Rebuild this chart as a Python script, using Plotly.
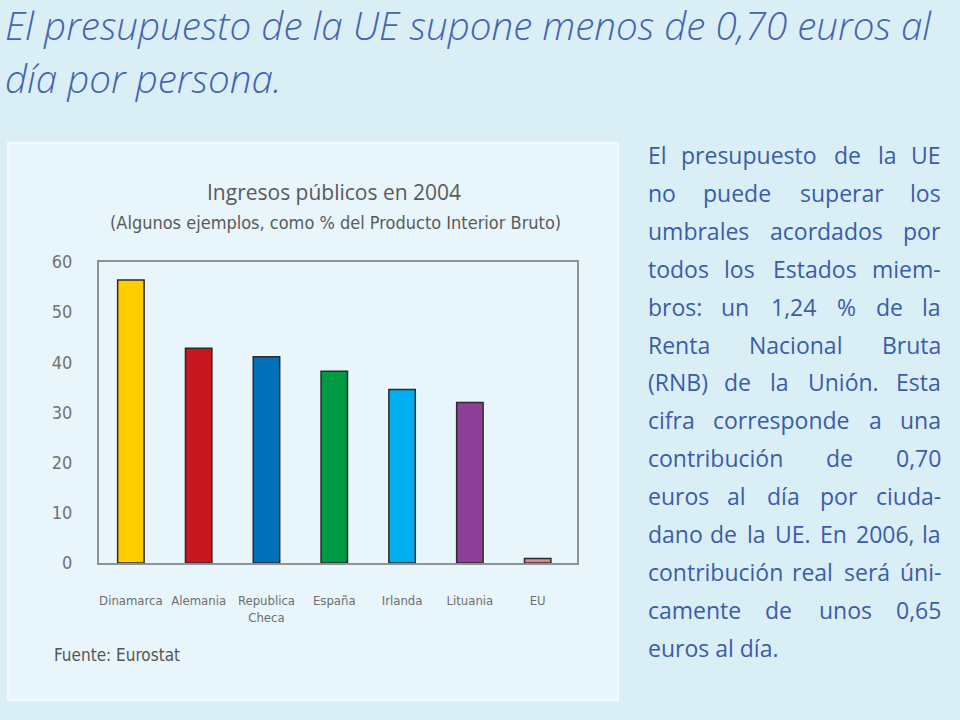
import plotly.graph_objects as go

# ---------------- data ----------------
categories = ["Dinamarca", "Alemania", "Republica<br>Checa", "España", "Irlanda", "Lituania", "EU"]
values = [56.4, 42.8, 41.1, 38.2, 34.6, 32.0, 0.9]
bar_colors = ["#FFCC00", "#C8161E", "#0070BA", "#009A44", "#00AEEF", "#8E3F96", "#D98A86"]
y_ticks = [0, 10, 20, 30, 40, 50, 60]

main_title_lines = ["El presupuesto de la UE supone menos de 0,70 euros al", "día por persona."]
chart_title = "Ingresos públicos en 2004"
chart_subtitle = "(Algunos ejemplos, como % del Producto Interior Bruto)"
source_text = "Fuente: Eurostat"
paragraph_lines = [
    "El presupuesto de la UE",
    "no puede superar los",
    "umbrales acordados por",
    "todos los Estados miem-",
    "bros: un 1,24 % de la",
    "Renta Nacional Bruta",
    "(RNB) de la Unión. Esta",
    "cifra corresponde a una",
    "contribución de 0,70",
    "euros al día por ciuda-",
    "dano de la UE. En 2006, la",
    "contribución real será úni-",
    "camente de unos 0,65",
    "euros al día.",
]

W, H = 960, 720
def fx(x):
    return x / W
def fy(y):
    return 1 - y / H

TEXT_BLUE = "#3A5DA9"
GRAY = "#6E6E6E"
COND = "DejaVu Sans Condensed, Liberation Sans Narrow, Arial Narrow, Open Sans"

fig = go.Figure()
fig.add_trace(go.Bar(
    x=categories, y=values,
    marker=dict(color=bar_colors, line=dict(color="#2A2A2A", width=1.5)),
    width=0.39, showlegend=False, hoverinfo="x+y",
))

axis_line = "#8A9496"
fig.update_layout(
    width=W, height=H,
    autosize=False,
    margin=dict(l=0, r=0, t=0, b=0, pad=0),
    paper_bgcolor="#DAEEF6",
    plot_bgcolor="#EDF7FB",
    xaxis=dict(
        domain=[fx(99), fx(577)], range=[-0.47, 6.58], automargin=False,
        showgrid=False, zeroline=False, showline=True, mirror=True,
        linecolor=axis_line, linewidth=2, ticks="",
        tickfont=dict(family=COND, size=13, color=GRAY),
        ticklabelstandoff=24, fixedrange=True,
    ),
    yaxis=dict(
        domain=[fy(563), fy(262)], range=[0, 60], automargin=False,
        tickvals=y_ticks, ticktext=[str(v) for v in y_ticks],
        showgrid=False, zeroline=False, showline=True, mirror=True,
        linecolor=axis_line, linewidth=2, ticks="",
        tickfont=dict(family=COND, size=18, color="#727272"),
        ticklabelstandoff=21, fixedrange=True,
    ),
)

shapes = [
    dict(type="rect", xref="paper", yref="paper",
         x0=fx(8), x1=fx(618), y0=fy(700), y1=fy(143),
         fillcolor="#E8F5FA", line=dict(color="#F2FAFD", width=2), layer="below"),
]
fig.update_layout(shapes=shapes)

ann = []
# main title
title_font = dict(family="Open Sans", size=38.6, color="#4465AE", style="italic", weight=300)
for i, line in enumerate(main_title_lines):
    ann.append(dict(text=line, xref="paper", yref="paper", x=fx(3), y=fy(25 + i * 53),
                    xanchor="left", yanchor="middle", showarrow=False, font=title_font))

# chart titles
ann.append(dict(text=chart_title, xref="paper", yref="paper", x=fx(334), y=fy(192),
                xanchor="center", yanchor="middle", showarrow=False,
                font=dict(family="Open Sans", size=21, color="#5A5A5A")))
ann.append(dict(text=chart_subtitle, xref="paper", yref="paper", x=fx(335), y=fy(222),
                xanchor="center", yanchor="middle", showarrow=False,
                font=dict(family=COND, size=18, color="#5A5A5A")))
ann.append(dict(text=source_text, xref="paper", yref="paper", x=fx(52), y=fy(655),
                xanchor="left", yanchor="middle", showarrow=False,
                font=dict(family=COND, size=17, color="#555555")))

# justified paragraph on the right (approximate Open Sans advance widths, in em)
PFONT = 23
left_x, right_x = 646, 943
cw = {
    "a": .556, "b": .613, "c": .480, "d": .613, "e": .561, "f": .336, "g": .546, "h": .613,
    "i": .258, "j": .258, "k": .523, "l": .258, "m": .931, "n": .613, "o": .602, "p": .613,
    "q": .613, "r": .408, "s": .479, "t": .353, "u": .613, "v": .501, "w": .778, "x": .517,
    "y": .501, "z": .468, "á": .556, "é": .561, "í": .258, "ó": .602, "ú": .613,
    "E": .550, "U": .730, "R": .598, "N": .754, "B": .632, "C": .631,
    ".": .266, ",": .249, ":": .266, "(": .296, ")": .296, "-": .322, "%": .824,
}
def char_w(c):
    if c.isdigit():
        return 0.572
    return cw.get(c, 0.6)
def word_w(w):
    return sum(char_w(c) for c in w) * PFONT

pfont = dict(family="Open Sans", size=PFONT, color=TEXT_BLUE)
for i, line in enumerate(paragraph_lines):
    y = fy(155 + i * 37.9)
    words = line.split(" ")
    last = i == len(paragraph_lines) - 1
    if last or len(words) == 1:
        ann.append(dict(text=line, xref="paper", yref="paper", x=fx(left_x), y=y,
                        xanchor="left", yanchor="middle", showarrow=False, font=pfont))
        continue
    widths = [word_w(w) for w in words]
    gap = (right_x - left_x - sum(widths)) / (len(words) - 1)
    pos = left_x
    for k, w in enumerate(words):
        if k == 0:
            ann.append(dict(text=w, xref="paper", yref="paper", x=fx(left_x), y=y,
                            xanchor="left", yanchor="middle", showarrow=False, font=pfont))
        elif k == len(words) - 1:
            ann.append(dict(text=w, xref="paper", yref="paper", x=fx(right_x), y=y,
                            xanchor="right", yanchor="middle", showarrow=False, font=pfont))
        else:
            ann.append(dict(text=w, xref="paper", yref="paper", x=fx(pos + widths[k] / 2), y=y,
                            xanchor="center", yanchor="middle", showarrow=False, font=pfont))
        pos += widths[k] + gap

fig.update_layout(annotations=ann)
fig.write_html("out.html", config={"displayModeBar": False},
               post_script="document.body.style.margin='0px';document.body.style.overflow='hidden';")
